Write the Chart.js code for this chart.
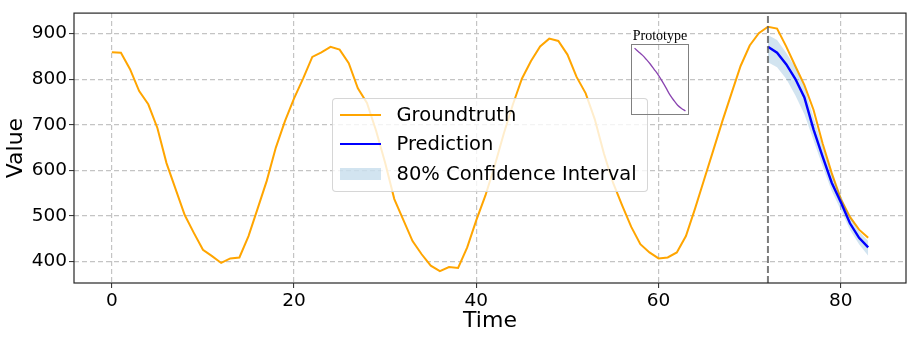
<!DOCTYPE html>
<html>
<head>
<meta charset="utf-8">
<script src="https://cdn.jsdelivr.net/npm/chart.js@4/dist/chart.umd.min.js"></script>
<style>
  body { margin: 0; background: #fff; }
  #wrap { position: relative; width: 914px; height: 340px; font-family: 'DejaVu Sans', sans-serif; }
  #legend {
    position: absolute; left: 331.5px; top: 98px; width: 316.5px; height: 93.5px;
    box-sizing: border-box; background: rgba(255,255,255,0.8);
    border: 1px solid rgba(204,204,204,0.8); border-radius: 4px;
  }
  #legend .h { position: absolute; left: 7.5px; width: 41px; }
  #legend .t { position: absolute; left: 64px; font-size: 19.5px; line-height: 24px; color: #000; white-space: nowrap; }
  #protoBox { position: absolute; left: 631px; top: 44px; width: 58px; height: 71px; box-sizing: border-box; border: 1px solid #808080; }
  #protoTitle { position: absolute; left: 620px; width: 80px; top: 27px; text-align: center;
    font-family: 'Liberation Serif', serif; font-size: 14px; line-height: 18px; color: #000; }
</style>
</head>
<body>
<div id="wrap">
  <canvas id="mainChart" width="914" height="340"></canvas>
  <div id="legend">
    <div class="h" style="top:15.3px;height:2px;background:#FFA500"></div>
    <div class="t" style="top:4.3px">Groundtruth</div>
    <div class="h" style="top:44.3px;height:2px;background:#0000FF"></div>
    <div class="t" style="top:33.3px">Prediction</div>
    <div class="h" style="top:68.7px;height:12.6px;background:rgba(31,119,180,0.2)"></div>
    <div class="t" style="top:63px">80% Confidence Interval</div>
  </div>
  <div id="protoTitle">Prototype</div>
  <div id="protoBox"><canvas id="protoChart" width="56" height="69"></canvas></div>
</div>
<script>
// observed series, t = 0..83
const groundtruth = [
  859, 858, 822, 774, 745, 693, 616, 559, 502, 463,
  426, 412, 397, 407, 409, 456, 516, 577, 650, 708,
  758, 802, 849, 859, 871, 865, 835, 780, 748, 687,
  616, 537, 491, 445, 416, 391, 379, 388, 386, 431,
  491, 545, 609, 680, 744, 801, 840, 872, 889, 884,
  854, 805, 769, 712, 637, 573, 523, 476, 438, 420,
  407, 409, 420, 456, 516, 580, 644, 708, 769, 829,
  874, 901, 915, 911, 872, 829, 787, 733, 659, 594,
  537, 498, 470, 452
];
// forecast window starts here
const predStart = 72;
const prediction = [871, 858, 833, 801, 760, 690, 630, 573, 530, 484, 452, 431];
const ciUpper    = [897, 886, 858, 826, 783, 716, 652, 591, 545, 498, 466, 445];
const ciLower    = [837, 826, 801, 765, 723, 666, 609, 555, 513, 470, 438, 413];

const xTicks = [0, 20, 40, 60, 80];
const yTicks = [400, 500, 600, 700, 800, 900];
const xMin = -4.15, xMax = 87.15;
const yMin = 353, yMax = 945;

// prototype shape shown in the inset
const prototype = [1.0, 0.944, 0.888, 0.820, 0.747, 0.663, 0.579, 0.478, 0.371, 0.258, 0.169, 0.090, 0.039, 0.0];

const toPts = (arr, start) => arr.map((v, i) => ({x: start + i, y: v}));

const gridColor = '#c4c4c4';
const tickFont = {family: "'DejaVu Sans'", size: 18.5};
const titleFont = {family: "'DejaVu Sans'", size: 22};

const frame = {
  id: 'frame',
  afterDraw(chart) {
    const a = chart.chartArea, c = chart.ctx;
    c.save();
    c.strokeStyle = '#262626';
    c.lineWidth = 1.2;
    c.strokeRect(a.left, a.top, a.right - a.left, a.bottom - a.top);
    c.restore();
  }
};

new Chart(document.getElementById('mainChart'), {
  type: 'line',
  data: {
    datasets: [
      {label: 'Groundtruth', data: toPts(groundtruth, 0), borderColor: '#FFA500', borderWidth: 2, order: 5},
      {label: 'lower', data: toPts(ciLower, predStart), borderWidth: 0, borderColor: 'rgba(0,0,0,0)', order: 4},
      {label: '80% Confidence Interval', data: toPts(ciUpper, predStart), borderWidth: 0, borderColor: 'rgba(0,0,0,0)',
        backgroundColor: 'rgba(31,119,180,0.2)', fill: 1, order: 3},
      {label: 'Prediction', data: toPts(prediction, predStart), borderColor: '#0000FF', borderWidth: 2.4, order: 2},
      {label: 'split', data: [{x: predStart, y: yMin}, {x: predStart, y: yMax}], borderColor: 'rgba(90,90,90,0.8)',
        borderWidth: 2, borderDash: [7, 3], order: 1}
    ]
  },
  options: {
    responsive: false,
    animation: false,
    layout: {padding: {top: 6, right: 8, left: 0, bottom: 0}},
    elements: {point: {radius: 0}, line: {tension: 0}},
    plugins: {legend: {display: false}, tooltip: {enabled: false}},
    scales: {
      x: {
        type: 'linear', min: xMin, max: xMax,
        afterBuildTicks: s => { s.ticks = xTicks.map(v => ({value: v})); },
        afterFit: s => { s.height = 57; },
        grid: {color: gridColor, lineWidth: 1.2, tickLength: 5, tickColor: '#262626', tickWidth: 1, tickBorderDash: []},
        border: {display: false, dash: [5, 3]},
        ticks: {font: tickFont, color: '#000', padding: 2, maxRotation: 0, autoSkip: false},
        title: {display: true, text: 'Time', font: titleFont, color: '#000', padding: {top: 0, bottom: 5.5}}
      },
      y: {
        min: yMin, max: yMax,
        afterBuildTicks: s => { s.ticks = yTicks.map(v => ({value: v})); },
        afterFit: s => { s.width = 74; },
        grid: {color: gridColor, lineWidth: 1.2, tickLength: 5, tickColor: '#262626', tickWidth: 1, tickBorderDash: []},
        border: {display: false, dash: [5, 3]},
        ticks: {font: tickFont, color: '#000', padding: 2, autoSkip: false},
        title: {display: true, text: 'Value', font: titleFont, color: '#000', padding: {top: 3, bottom: 0}}
      }
    }
  },
  plugins: [frame]
});

new Chart(document.getElementById('protoChart'), {
  type: 'line',
  data: {datasets: [{data: toPts(prototype, 0), borderColor: '#8a44b0', borderWidth: 1.3}]},
  options: {
    responsive: false,
    animation: false,
    elements: {point: {radius: 0}, line: {tension: 0.3}},
    plugins: {legend: {display: false}, tooltip: {enabled: false}},
    scales: {
      x: {type: 'linear', display: false, min: -0.65, max: 13.65},
      y: {display: false, min: -0.05, max: 1.05}
    }
  }
});
</script>
</body>
</html>
